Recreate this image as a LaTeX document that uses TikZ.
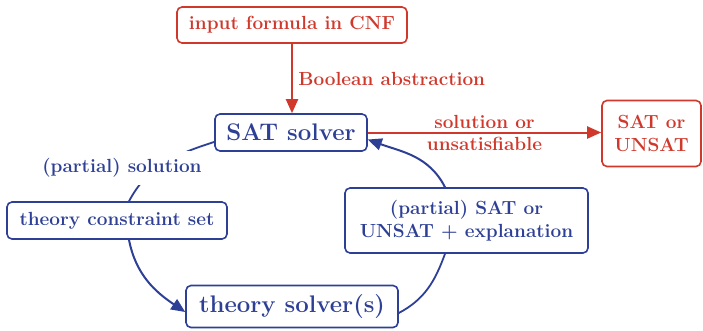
\documentclass[tikz,border=0pt]{standalone}
\usetikzlibrary{arrows.meta}

\definecolor{solverblue}{RGB}{46,64,150}
\definecolor{inputred}{RGB}{208,56,44}

\newcommand\diagfont{\fontsize{19}{23}\selectfont\bfseries}
\newcommand\diagbigfont{\fontsize{24}{28}\selectfont\bfseries}

\tikzset{
  box/.style={draw, rounded corners=5pt, line width=1.6pt, inner sep=0pt,
    align=center, font=\diagfont},
  bluebox/.style={box, draw=solverblue, text=solverblue},
  redbox/.style={box, draw=inputred, text=inputred},
  flow/.style={line width=2pt, -{Triangle[length=14pt,width=12pt]}},
  link/.style={line width=1.8pt, draw=solverblue},
  redlabel/.style={text=inputred, font=\diagfont},
}

\begin{document}
\begin{tikzpicture}[x=1pt,y=1pt]
  \useasboundingbox (0,0) rectangle (703,-330);

  % boxes
  \node[redbox, minimum width=230pt, minimum height=36pt] (inp) at (292,-25)
    {input formula in CNF};
  \node[bluebox, font=\diagbigfont, minimum width=152pt, minimum height=37pt]
    (sat) at (291,-132.5) {SAT solver};
  \node[redbox, minimum width=99pt, minimum height=66pt] (res) at (651.5,-133.5)
    {SAT or\\UNSAT};
  \node[bluebox, minimum width=220pt, minimum height=37pt] (tcs) at (117,-220.5)
    {theory constraint set};
  \node[bluebox, font=\diagbigfont, minimum width=212pt, minimum height=42pt]
    (ts) at (292,-306.5) {theory solver(s)};
  \node[bluebox, minimum width=243pt, minimum height=65pt] (expl) at (466.5,-220.5)
    {(partial) SAT or\\UNSAT + explanation};

  % input and result arrows
  \draw[flow, inputred] (inp.south) --
    node[right, redlabel, xshift=2pt] {Boolean abstraction} (inp.south |- sat.north);
  \draw[flow, inputred] (sat.east) --
    node[above, redlabel] {solution or}
    node[below, redlabel] {unsatisfiable} (sat.east -| res.west);

  % the solver loop
  \draw[link] (sat.187) to[out=198, in=62] ([xshift=12pt]tcs.north);
  \node[fill=white, text=solverblue, font=\diagfont, inner xsep=3pt, inner ysep=7pt]
    (psol) at (122,-168) {(partial) solution};
  \draw[link, flow] ([xshift=12pt]tcs.south) to[out=-79, in=146]
    ([yshift=-5.5pt]ts.west);
  \draw[link] ([yshift=-6.5pt]ts.east) to[out=28, in=250]
    ([xshift=-21.5pt]expl.south);
  \draw[link, flow] ([xshift=-21.5pt]expl.north) to[out=117, in=-20]
    ([yshift=-7pt]sat.east);
\end{tikzpicture}
\end{document}
